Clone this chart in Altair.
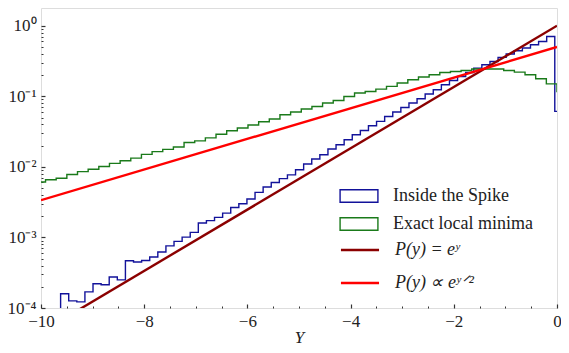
import altair as alt
import pandas as pd

# ---------------- data ----------------
# "Inside the Spike" histogram: first bin edge, bin width, bin heights
blue_start = -9.62
blue_width = 0.157
blue_values = [1.59e-4, 1.26e-4, 1.22e-4, 1.69e-4, 2.21e-4, 2.14e-4, 2.75e-4, 2.5e-4,
               4.68e-4, 4.48e-4, 4.72e-4, 5.28e-4, 6.2e-4, 7.6e-4, 8.78e-4, 1.01e-3, 1.18e-3, 1.6e-3,
               1.73e-3, 1.92e-3, 2.21e-3, 2.66e-3, 3.0e-3, 3.5e-3, 4.34e-3, 5.17e-3, 6.0e-3, 6.8e-3,
               7.7e-3, 9.1e-3, 0.01096, 0.0129, 0.0148, 0.0179, 0.0206, 0.0242, 0.0285, 0.0328, 0.0382,
               0.044, 0.0517, 0.0597, 0.0694, 0.0801, 0.0922, 0.1074, 0.1236, 0.1455, 0.1674, 0.1908,
               0.2173, 0.2506, 0.279, 0.311, 0.355, 0.396, 0.441, 0.482, 0.536, 0.597, 0.703, 0.061]

# "Exact local minima" histogram: bins end at 0 and extend leftwards
green_width = 0.2065
green_values = [6.1e-3, 6.56e-3, 6.9e-3, 7.8e-3, 8.55e-3, 9.25e-3, 0.0101, 0.0112, 0.0122, 0.0133,
                0.015, 0.0164, 0.0177, 0.0191, 0.0221, 0.0233, 0.0257, 0.029, 0.0325, 0.0355,
                0.0391, 0.0436, 0.0476, 0.0547, 0.0597, 0.0659, 0.0717, 0.0801, 0.0872, 0.0993,
                0.111, 0.117, 0.126, 0.138, 0.154, 0.171, 0.187, 0.202, 0.217, 0.224,
                0.232, 0.243, 0.243, 0.243, 0.232, 0.22, 0.202, 0.177, 0.150, 0.117]

# straight reference lines (on a log axis) given by their end points
line_x = [-10.0, 0.0]
exact_vals = [4.54e-5, 1.0]      # P(y) = e^y
half_vals = [3.37e-3, 0.5]       # P(y) ∝ e^{y/2}

hist_names = ["Inside the Spike", "Exact local minima"]
hist_colors = ["#12129a", "#1a7a1a"]
line_names = ["P(y) = eʸ", "P(y) ∝ eʸᐟ²"]
line_colors = ["#8b0000", "#ff0000"]

x_major = [-10, -8, -6, -4, -2, 0]
x_minor = [v / 2 for v in range(-19, 0) if v % 4 != 0]
y_major = [1e-4, 1e-3, 1e-2, 1e-1, 1.0]
y_minor = [k * 10.0 ** e for e in range(-4, 1) for k in range(2, 10) if k * 10.0 ** e < 1.78]

# ---------------- build tables ----------------
rows = []
o = 0
rows.append(dict(x=blue_start, y=1e-7, s=hist_names[0], o=o)); o += 1
for k, v in enumerate(blue_values):
    rows.append(dict(x=blue_start + k * blue_width, y=v, s=hist_names[0], o=o)); o += 1
rows.append(dict(x=blue_start + len(blue_values) * blue_width, y=blue_values[-1], s=hist_names[0], o=o)); o += 1
ng = len(green_values)
for i, v in enumerate(green_values):
    rows.append(dict(x=-green_width * (ng - 1 - i), y=v, s=hist_names[1], o=o)); o += 1
rows.append(dict(x=green_width, y=green_values[-1], s=hist_names[1], o=o)); o += 1
hist = pd.DataFrame(rows)
lines = pd.DataFrame(
    [dict(x=xx, y=yy, s=line_names[0]) for xx, yy in zip(line_x, exact_vals)]
    + [dict(x=xx, y=yy, s=line_names[1]) for xx, yy in zip(line_x, half_vals)]
)

FONT = "Liberation Serif"
xs = alt.Scale(domain=[-10, 0], nice=False, zero=False)
ys = alt.Scale(type="log", domain=[1e-4, 1.78], nice=False)
hs = alt.Scale(domain=hist_names, range=hist_colors)
ls = alt.Scale(domain=line_names, range=line_colors)

common_leg = dict(title=None, orient="none", padding=0, labelFont=FONT, labelFontSize=18,
                  labelColor="#222", symbolFillColor="transparent", symbolOpacity=1)
hist_legend = alt.Legend(legendX=304, legendY=174, symbolSize=700, labelOffset=20, rowPadding=4,
                         symbolType="M-1.43,-0.47H1.43V0.47H-1.43Z",
                         symbolStrokeWidth=1.4, **common_leg)
line_legend = alt.Legend(legendX=303, legendY=226, symbolSize=820, labelOffset=19, rowPadding=8,
                         symbolType="M-1.33,0H1.33", labelFontStyle="italic",
                         symbolStrokeWidth=2.6, **common_leg)

ylab = "'10' + (datum.value >= 0.99 ? '⁰' : '⁻' + ['','¹','²','³','⁴'][round(-log(datum.value)/LN10)])"

x_main = alt.Axis(values=x_major, ticks=False, domain=False, grid=False, orient="bottom",
                  labelFont=FONT, labelFontSize=17, labelColor="#222", labelPadding=5,
                  labelFlush=False, title="Y", titleFont=FONT, titleFontSize=17,
                  titleFontStyle="italic", titleFontWeight="normal", titleColor="#222",
                  titlePadding=0)
y_main = alt.Axis(values=y_major, ticks=False, domain=False, grid=False, orient="left",
                  labelFont=FONT, labelFontSize=17, labelColor="#222", labelPadding=5,
                  labelExpr=ylab, title=None)
x_maj_t = alt.Axis(values=x_major, labels=False, domain=False, grid=False, orient="bottom",
                   tickSize=4, offset=-4, tickColor="#333", tickWidth=1.2, title=None)
y_maj_t = alt.Axis(values=y_major, labels=False, domain=False, grid=False, orient="left",
                   tickSize=4, offset=-4, tickColor="#333", tickWidth=1.2, title=None)
x_min_t = alt.Axis(values=x_minor, labels=False, domain=False, grid=False, orient="bottom",
                   tickSize=2, offset=-2, tickColor="#333", tickWidth=1, title=None)
y_min_t = alt.Axis(values=y_minor, labels=False, domain=False, grid=False, orient="left",
                   tickSize=2, offset=-2, tickColor="#333", tickWidth=1, title=None)

hb = alt.Chart(hist)
blue = hb.transform_filter(alt.datum.s == hist_names[0]).mark_line(
    interpolate="step-after", strokeWidth=1.4, clip=True).encode(
    x=alt.X("x:Q", scale=xs, axis=x_main),
    y=alt.Y("y:Q", scale=ys, axis=y_main),
    stroke=alt.Stroke("s:N", scale=hs, legend=hist_legend),
    order="o:Q",
)
green = hb.transform_filter(alt.datum.s == hist_names[1]).mark_line(
    interpolate="step-after", strokeWidth=1.4, clip=True).encode(
    x=alt.X("x:Q", scale=xs, axis=x_maj_t),
    y=alt.Y("y:Q", scale=ys, axis=y_maj_t),
    stroke=alt.Stroke("s:N", scale=hs, legend=hist_legend),
    order="o:Q",
)
lb = alt.Chart(lines)
dark = lb.transform_filter(alt.datum.s == line_names[0]).mark_line(strokeWidth=2.4, clip=True).encode(
    x=alt.X("x:Q", scale=xs, axis=x_min_t),
    y=alt.Y("y:Q", scale=ys, axis=y_min_t),
    color=alt.Color("s:N", scale=ls, legend=line_legend),
)
red = lb.transform_filter(alt.datum.s == line_names[1]).mark_line(strokeWidth=2.4, clip=True).encode(
    x=alt.X("x:Q", scale=xs, axis=None),
    y=alt.Y("y:Q", scale=ys, axis=None),
    color=alt.Color("s:N", scale=ls, legend=line_legend),
)

chart = alt.layer(blue, green, dark, red).resolve_axis(
    x="independent", y="independent"
).properties(
    width=516, height=300,
    autosize=alt.AutoSizeParams(type="none"),
    padding={"left": 33, "top": 0, "right": 4, "bottom": 37},
).configure_view(
    stroke="#333", strokeWidth=1.8
).configure(background="white")

chart.save("out.html", embed_options={"renderer": "svg", "actions": False})
